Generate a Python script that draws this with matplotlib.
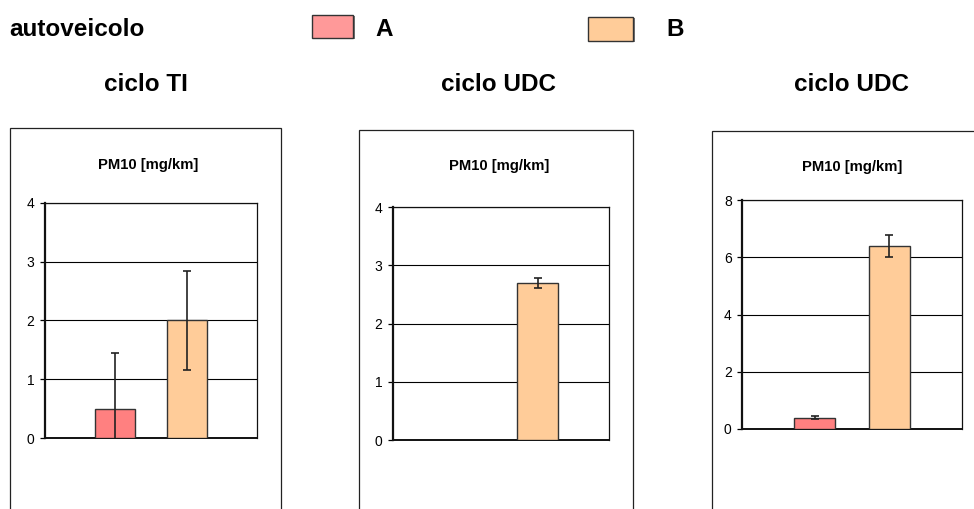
import numpy as np
import matplotlib
matplotlib.use("Agg")
import matplotlib.pyplot as plt
from matplotlib.patches import Rectangle

plt.rcParams['font.family'] = ['Liberation Sans', 'DejaVu Sans']

# ---- data ----
series = ['A', 'B']
cycles = ['ciclo TI', 'ciclo UDC', 'ciclo UDC']
panel_title = 'PM10 [mg/km]'
header_label = 'autoveicolo'
values_A = [0.5, np.nan, 0.4]
values_B = [2.0, 2.7, 6.4]
err_A = [0.95, np.nan, 0.05]
err_B = [0.84, 0.08, 0.38]
y_max = [4, 4, 8]
y_step = [1, 1, 2]

color_A = '#FF8080'
color_B = '#FFCC99'
legend_colors = ['#FF9999', '#FFCC99']

W, H = 974, 509
fig = plt.figure(figsize=(W / 100, H / 100), dpi=100)


def fx(x):
    return x / W


def fy(y):
    return 1 - y / H


# plot-area boxes (pixels: left, right, top, bottom)
plot_boxes = [(45, 257, 202.7, 438), (392.7, 609.3, 207.3, 440), (742.3, 961.7, 200.3, 429)]
outer_boxes = [(10, 281, 128), (359.3, 633, 130), (712.3, 990, 130.7)]
title_pos = [(148, 168.5), (499, 170), (852, 171.5)]
header_pos = [146, 499, 851]

# header
fig.text(fx(9), fy(36.5), header_label, fontsize=17.5, fontweight='bold', va='baseline', ha='left')
leg_patches = [(311.7, 353.3, 15, 37.7), (588.3, 633.3, 17.3, 41)]
leg_text_x = [375, 666]
for (l, r, t, b), name, col, tx in zip(leg_patches, series, legend_colors, leg_text_x):
    # slight shadow
    fig.patches.append(Rectangle((fx(l + 1.2), fy(b + 1.2)), fx(r - l), (b - t) / H, facecolor='#777777',
                                 edgecolor='none', transform=fig.transFigure))
    fig.patches.append(Rectangle((fx(l), fy(b)), fx(r - l), (b - t) / H, facecolor=col,
                                 edgecolor='#333333', linewidth=1.0, transform=fig.transFigure))
    fig.text(fx(tx), fy(36.5), name, fontsize=17.5, fontweight='bold', va='baseline', ha='left')

for i in range(3):
    # cycle heading
    fig.text(fx(header_pos[i]), fy(91), cycles[i], fontsize=17.5, fontweight='bold',
             va='baseline', ha='center')
    # outer chart box
    l, r, t = outer_boxes[i]
    fig.patches.append(Rectangle((fx(l), fy(H + 20)), fx(r - l), (H + 20 - t) / H,
                                 facecolor='none', edgecolor='#222222', linewidth=0.9,
                                 transform=fig.transFigure, clip_on=False))
    # panel title
    tx, ty = title_pos[i]
    fig.text(fx(tx), fy(ty), panel_title, fontsize=10.7, fontweight='bold', va='baseline', ha='center')

    pl, pr, pt, pb = plot_boxes[i]
    ax = fig.add_axes([fx(pl), fy(pb), fx(pr - pl), (pb - pt) / H])
    x = np.arange(len(series))
    vals = [values_A[i], values_B[i]]
    errs = [err_A[i], err_B[i]]
    cols = [color_A, color_B]
    for xi, v, e, c in zip(x, vals, errs, cols):
        if np.isnan(v):
            continue
        ax.bar(xi, v, width=0.555, color=c, edgecolor='#333333', linewidth=1.0, zorder=3)
        ax.errorbar(xi, v, yerr=e, fmt='none', ecolor='#222222', elinewidth=1.2,
                    capsize=3, capthick=1.2, zorder=4)
    ax.set_xlim(-0.972, 1.972)
    ax.set_ylim(0, y_max[i])
    ticks = np.arange(0, y_max[i] + 0.01, y_step[i])
    ax.set_yticks(ticks)
    ax.set_yticklabels([str(int(t)) for t in ticks])
    ax.set_xticks([])
    ax.yaxis.grid(True, color='black', linewidth=0.8, zorder=0)
    ax.set_axisbelow(True)
    ax.tick_params(axis='y', direction='out', length=3.6, width=0.9, pad=4.0,
                   labelsize=10, colors='black')
    for side in ['top', 'right']:
        ax.spines[side].set_linewidth(0.9)
        ax.spines[side].set_color('#111111')
    ax.spines['left'].set_linewidth(1.6)
    ax.spines['bottom'].set_linewidth(1.4)
    ax.spines['left'].set_color('#111111')
    ax.spines['bottom'].set_color('#111111')

fig.savefig('out.png', dpi=100)
